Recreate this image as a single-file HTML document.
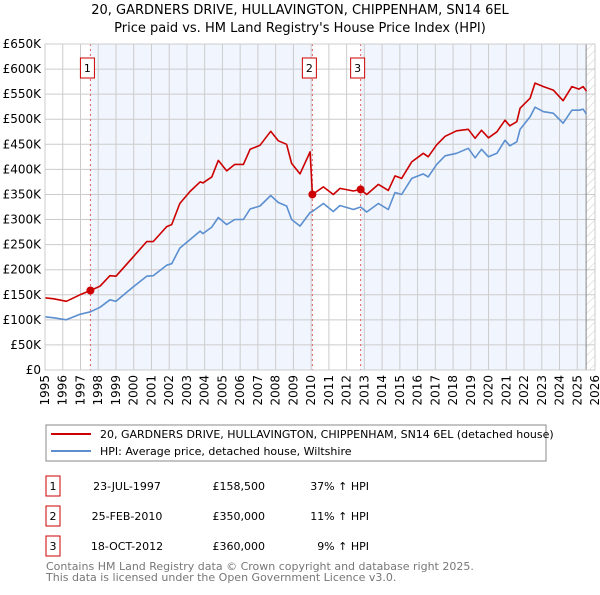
<!DOCTYPE html>
<html><head><meta charset="utf-8"><style>
body{margin:0;background:#fff;font-family:"Liberation Sans","DejaVu Sans",sans-serif}
svg text{font-family:"DejaVu Sans","Liberation Sans",sans-serif}
</style></head><body>
<svg id="c" width="600" height="590" viewBox="0 0 600 590" xmlns="http://www.w3.org/2000/svg">
<defs><pattern id="hatch" width="6" height="6" patternUnits="userSpaceOnUse" patternTransform="rotate(45)"><line x1="0" y1="0" x2="0" y2="6" stroke="#ccc" stroke-width="1"/></pattern></defs>
<text x="300" y="14" text-anchor="middle" font-size="13">20, GARDNERS DRIVE, HULLAVINGTON, CHIPPENHAM, SN14 6EL</text>
<text x="300" y="32" text-anchor="middle" font-size="13">Price paid vs. HM Land Registry's House Price Index (HPI)</text>
<g id="plot"></g>
<g>
<rect x="46" y="425" width="500" height="36" fill="#fff" stroke="#888"/>
<line x1="51" y1="434" x2="91" y2="434" stroke="#cc0000" stroke-width="2"/>
<text x="100" y="438" font-size="11">20, GARDNERS DRIVE, HULLAVINGTON, CHIPPENHAM, SN14 6EL (detached house)</text>
<line x1="51" y1="451" x2="91" y2="451" stroke="#5b8fd0" stroke-width="2"/>
<text x="100" y="455" font-size="11">HPI: Average price, detached house, Wiltshire</text>
</g>
<g id="table" font-size="11"></g>
<text x="46" y="570" font-size="11" fill="#777">Contains HM Land Registry data © Crown copyright and database right 2025.</text>
<text x="46" y="581" font-size="11" fill="#777">This data is licensed under the Open Government Licence v3.0.</text>
</svg>
<script>
const hpiYears=[1995,1995.5,1996.2,1996.97,1997.56,1998.1,1998.66,1999,1999.98,2000.73,2001.1,2001.86,2002.14,2002.6,2003.17,2003.74,2003.9,2004.4,2004.77,2005.24,2005.7,2006.18,2006.56,2007.12,2007.72,2008.15,2008.62,2008.9,2009.37,2009.94,2010.07,2010.69,2011.25,2011.63,2012.38,2012.79,2013.13,2013.79,2014.35,2014.73,2015.1,2015.67,2016.32,2016.6,2017.08,2017.55,2018.2,2018.86,2019.24,2019.6,2020,2020.47,2020.93,2021.2,2021.59,2021.78,2022.34,2022.62,2023.1,2023.65,2024.2,2024.7,2025.1,2025.33,2025.52];
const hpiValues=[106,104,100,111,116,125,140,137,166,187,188,209,212,243,260,277,272,285,304,290,300,300,321,327,348,334,327,300,287,314,316,332,316,328,320,325,315,332,320,354,350,382,391,385,410,427,432,442,423,440,425,432,458,447,455,480,505,524,515,512,492,518,518,520,510];
const priceYears=[1995,1995.5,1996.2,1996.97,1997.56,1998.1,1998.66,1999,1999.98,2000.73,2001.1,2001.86,2002.14,2002.6,2003.17,2003.74,2003.9,2004.4,2004.77,2005.24,2005.7,2006.18,2006.56,2007.12,2007.72,2008.15,2008.62,2008.9,2009.37,2009.94,2010.07,2010.69,2011.25,2011.63,2012.38,2012.79,2013.13,2013.79,2014.35,2014.73,2015.1,2015.67,2016.32,2016.6,2017.08,2017.55,2018.2,2018.86,2019.24,2019.6,2020,2020.47,2020.93,2021.2,2021.59,2021.78,2022.34,2022.62,2023.1,2023.65,2024.2,2024.7,2025.1,2025.33,2025.52];
const priceValues=[144,142,137,150,158.5,167,188,187,226,256,256,286,290,332,356,375,373,385,418,397,410,410,440,448,476,457,450,412,391,435,350,365,350,362,357,360,350,370,358,387,382,415,432,425,449,466,477,480,462,478,463,475,498,487,495,522,542,572,565,558,537,565,560,565,556];
const saleYears=[1997.56,2010.07,2012.79];
const saleValues=[158.5,350,360];
const saleLabels=["1","2","3"];
const saleDates=["23-JUL-1997","25-FEB-2010","18-OCT-2012"];
const salePrices=["£158,500","£350,000","£360,000"];
const saleDiffs=["37% ↑ HPI","11% ↑ HPI","9% ↑ HPI"];
const yTicks=[0,50,100,150,200,250,300,350,400,450,500,550,600,650];
const yTickLabels=["£0","£50K","£100K","£150K","£200K","£250K","£300K","£350K","£400K","£450K","£500K","£550K","£600K","£650K"];
const xTicks=[1995,1996,1997,1998,1999,2000,2001,2002,2003,2004,2005,2006,2007,2008,2009,2010,2011,2012,2013,2014,2015,2016,2017,2018,2019,2020,2021,2022,2023,2024,2025,2026];
const dataEnd=2025.5;

const NS="http://www.w3.org/2000/svg";
const L=45,R=595,T=44,B=370;
const x=v=>L+(v-1995)/(2026-1995)*(R-L);
const y=v=>B-v/650*(B-T);
const plot=document.getElementById('plot');
function mk(tag,attrs,parent){const e=document.createElementNS(NS,tag);for(const k in attrs)e.setAttribute(k,attrs[k]);(parent||plot).appendChild(e);return e;}

let bg=mk('rect',{x:L,y:T,width:R-L,height:B-T,fill:'#fff'});


// shaded ownership periods
const shadeFrom=[saleYears[0],saleYears[2]],shadeTo=[saleYears[1],dataEnd];
for(let i=0;i<2;i++){
  let s=mk('rect',{x:x(shadeFrom[i]),y:T,width:x(shadeTo[i])-x(shadeFrom[i]),height:B-T,fill:'#eef3fc',opacity:0.8});
  
  
}
let h=mk('rect',{x:x(dataEnd),y:T,width:R-x(dataEnd),height:B-T,fill:'url(#hatch)'});


// grid
yTicks.forEach((v,i)=>{
  let g=mk('line',{x1:L,x2:R,y1:y(v),y2:y(v),stroke:'#ccc','stroke-width':1});
  
  
  let t=mk('text',{x:L-4,y:y(v)+4,'text-anchor':'end','font-size':12});
  t.textContent=yTickLabels[i];
  
  
});
xTicks.forEach(v=>{
  let g=mk('line',{x1:x(v),x2:x(v),y1:T,y2:B,stroke:'#ccc','stroke-width':1});
  
  
  let t=mk('text',{x:0,y:0,'font-size':12,'text-anchor':'end',transform:`translate(${x(v)+4},${B+5}) rotate(-90)`});
  t.textContent=v;
  
  
});
let dl=mk('line',{x1:x(dataEnd),x2:x(dataEnd),y1:T,y2:B,stroke:'#888','stroke-width':1});


// sale vertical lines
saleYears.forEach((v,i)=>{
  let l=mk('line',{x1:x(v),x2:x(v),y1:T,y2:B,stroke:'#e06060','stroke-width':1,'stroke-dasharray':'2,3'});
  
  
});
// series
function path(xs,vs){return xs.map((d,i)=>(i?'L':'M')+x(d).toFixed(1)+','+y(vs[i]).toFixed(1)).join('');}
let hp=mk('path',{d:path(hpiYears,hpiValues),fill:'none',stroke:'#5b8fd0','stroke-width':1.6,'stroke-linejoin':'round'});


let pp=mk('path',{d:path(priceYears,priceValues),fill:'none',stroke:'#cc0000','stroke-width':1.6,'stroke-linejoin':'round'});


saleYears.forEach((v,i)=>{
  let c=mk('circle',{cx:x(v),cy:y(saleValues[i]),r:4,fill:'#cc0000'});
  
  
  let b=mk('rect',{x:x(v)-10,y:58,width:14,height:20,fill:'#fff',stroke:'#cc0000'});
  
  
  let t=mk('text',{x:x(v)-3,y:72,'text-anchor':'middle','font-size':11});
  t.textContent=saleLabels[i];
  
  
});
let fr=mk('rect',{x:L,y:T,width:R-L,height:B-T,fill:'none',stroke:'#ccc'});


// table
const tbl=document.getElementById('table');
saleLabels.forEach((s,i)=>{
  const cy=486+i*30;
  let b=mk('rect',{x:46,y:cy-10,width:14,height:20,fill:'#fff',stroke:'#cc0000'},tbl);
  
  
  let t=mk('text',{x:53,y:cy+4,'text-anchor':'middle'},tbl);t.textContent=s;
  
  
  let d=mk('text',{x:127,y:cy+4,'text-anchor':'middle'},tbl);d.textContent=saleDates[i];
  
  
  let p=mk('text',{x:265,y:cy+4,'text-anchor':'end'},tbl);p.textContent=salePrices[i];
  
  
  let f=mk('text',{x:369,y:cy+4,'text-anchor':'end'},tbl);f.textContent=saleDiffs[i];
  
  
});
</script>
</body></html>
